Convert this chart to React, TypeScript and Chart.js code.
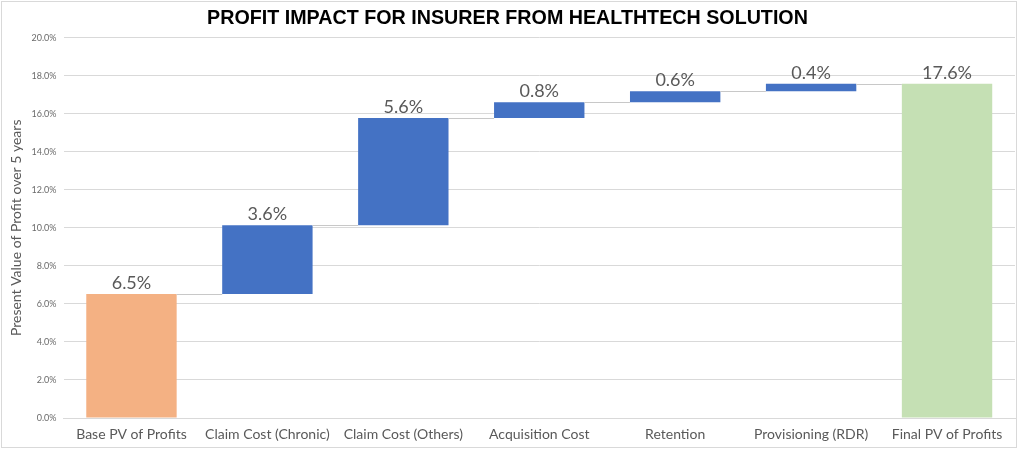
import React, { useEffect, useRef } from "react";
import { Chart, registerables } from "chart.js";

Chart.register(...registerables);

const TITLE = "PROFIT IMPACT FOR INSURER FROM HEALTHTECH SOLUTION";
const Y_TITLE = "Present Value of Profit over 5 years";
const categories = [
  "Base PV of Profits",
  "Claim Cost (Chronic)",
  "Claim Cost (Others)",
  "Acquisition Cost",
  "Retention",
  "Provisioning (RDR)",
  "Final PV of Profits",
];
const baseValue = 6.52;
const increments = [3.62, 5.64, 0.82, 0.58, 0.39];
const finalValue = 17.57;
const barColors = ["#F4B183", "#4472C4", "#4472C4", "#4472C4", "#4472C4", "#4472C4", "#C5E0B4"];
const yTicks = { min: 0, max: 20, step: 2 };

const FONT = "Lato, 'Open Sans', sans-serif";
const GREY = "#595959";

export default function App() {
  const ref = useRef<HTMLCanvasElement | null>(null);

  useEffect(() => {
    if (!ref.current) return;
    const floating: [number, number][] = [[0, baseValue]];
    const amounts: number[] = [baseValue];
    let cum = baseValue;
    for (const inc of increments) {
      floating.push([cum, cum + inc]);
      amounts.push(inc);
      cum += inc;
    }
    floating.push([0, finalValue]);
    amounts.push(finalValue);
    const levels = floating.map((f) => f[1]);

    const overlay = {
      id: "overlay",
      beforeDraw(chart: any) {
        const ctx = chart.ctx;
        ctx.save();
        ctx.fillStyle = "#ffffff";
        ctx.fillRect(0, 0, chart.width, chart.height);
        ctx.strokeStyle = "#d9d9d9";
        ctx.lineWidth = 1;
        ctx.strokeRect(1.5, 1.5, 1015, 446);
        ctx.restore();
      },
      afterDatasetsDraw(chart: any) {
        const ctx = chart.ctx;
        const meta = chart.getDatasetMeta(0);
        const y = chart.scales.y;
        ctx.save();
        ctx.strokeStyle = "#c8c8c8";
        ctx.lineWidth = 1;
        for (let i = 0; i < meta.data.length - 1; i++) {
          const a = meta.data[i];
          const b = meta.data[i + 1];
          const py = Math.round(y.getPixelForValue(levels[i])) + 0.5;
          ctx.beginPath();
          ctx.moveTo(a.x + a.width / 2, py);
          ctx.lineTo(b.x - b.width / 2, py);
          ctx.stroke();
        }
        ctx.fillStyle = GREY;
        ctx.font = `18px ${FONT}`;
        ctx.textAlign = "center";
        ctx.textBaseline = "bottom";
        meta.data.forEach((el: any, i: number) => {
          const top = y.getPixelForValue(levels[i]);
          ctx.fillText(amounts[i].toFixed(1) + "%", el.x, top - 2);
        });
        ctx.restore();
      },
    };

    const chart = new Chart(ref.current, {
      type: "bar",
      data: {
        labels: categories,
        datasets: [
          {
            data: floating as any,
            backgroundColor: barColors,
            borderWidth: 0,
            categoryPercentage: 1,
            barPercentage: 0.665,
            borderSkipped: false,
          },
        ],
      },
      options: {
        animation: false,
        responsive: false,
        devicePixelRatio: 1,
        layout: { padding: { left: 0, right: 9, top: 0, bottom: 0 } },
        plugins: {
          legend: { display: false },
          tooltip: { enabled: false },
          title: {
            display: true,
            text: TITLE,
            color: "#000000",
            font: { family: "'Liberation Sans', Arial, sans-serif", size: 19.7, weight: "bold" },
            padding: { top: 7, bottom: 7 },
          },
        },
        scales: {
          x: {
            grid: { display: false, drawTicks: false },
            border: { display: true, color: "#d9d9d9" },
            ticks: { color: GREY, font: { family: FONT, size: 14 }, padding: 8, maxRotation: 0 },
            afterFit(scale: any) {
              scale.height = 34;
            },
          },
          y: {
            min: yTicks.min,
            max: yTicks.max,
            grid: { color: "#d9d9d9", drawTicks: false },
            border: { display: false },
            ticks: {
              stepSize: yTicks.step,
              color: "#6b6b6b",
              font: { family: FONT, size: 9 },
              padding: 7,
              callback: (v: any) => Number(v).toFixed(1) + "%",
            },
            title: {
              display: true,
              text: Y_TITLE,
              color: GREY,
              font: { family: FONT, size: 14 },
              padding: { top: 8, bottom: 0 },
            },
            afterFit(scale: any) {
              scale.width = 63.5;
            },
          },
        },
      },
      plugins: [overlay],
    });
    return () => chart.destroy();
  }, []);

  return (
    <div style={{ position: "fixed", left: 0, top: 0, width: 1024, height: 452, background: "#fff" }}>
      <canvas ref={ref} width={1024} height={452} style={{ width: 1024, height: 452, display: "block" }} />
    </div>
  );
}
